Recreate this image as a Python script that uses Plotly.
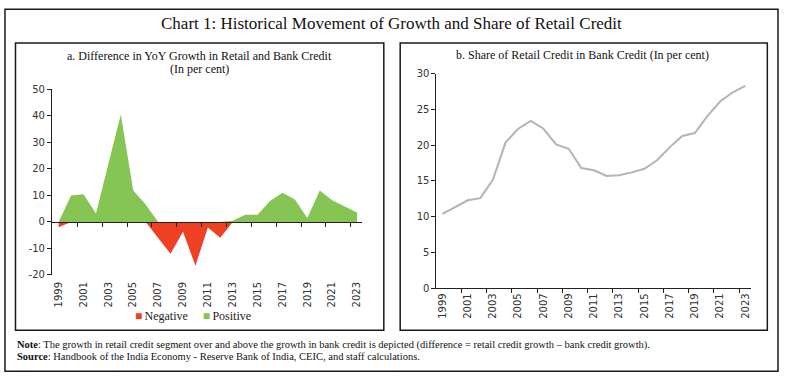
import plotly.graph_objects as go

years = list(range(1999, 2024))
diff_growth = [-2.0, 10.0, 10.5, 3.2, 22.0, 40.6, 11.9, 6.6, -6.0, -12.0, -3.7, -16.5,
               -2.1, -5.9, 0.5, 2.7, 2.7, 7.9, 11.0, 8.5, 1.5, 11.9, 8.2, 5.8, 3.6]
retail_share = [10.4, 11.3, 12.3, 12.6, 15.2, 20.4, 22.3, 23.4, 22.3, 20.1, 19.5, 16.8,
                16.5, 15.7, 15.8, 16.2, 16.7, 17.9, 19.7, 21.3, 21.7, 24.1, 26.1, 27.4, 28.3]
tick_years = list(range(1999, 2024, 2))
y_ticks_a = list(range(-20, 51, 10))
y_ticks_b = list(range(0, 31, 5))

positive = [max(v, 0) for v in diff_growth]
negative = [min(v, 0) for v in diff_growth]

W, H = 785, 382
def px(x):
    return x / W
def py(y):
    return 1 - y / H

RED = "#ee4123"
GREEN = "#86c454"
SERIF = "Liberation Serif"
SANS = "DejaVu Sans"

fig = go.Figure()
fig.add_trace(go.Scatter(x=years, y=negative, mode="lines", fill="tozeroy",
                         fillcolor=RED, line=dict(width=0, color=RED),
                         showlegend=False, xaxis="x", yaxis="y"))
fig.add_trace(go.Scatter(x=years, y=positive, mode="lines", fill="tozeroy",
                         fillcolor=GREEN, line=dict(width=0, color=GREEN),
                         showlegend=False, xaxis="x", yaxis="y"))
# legend entries: square swatch drawn as part of the entry text
fig.add_trace(go.Scatter(x=[None], y=[None], mode="markers",
                         name=f"<span style='color:{RED}'>\u25A0</span>\u2009Negative",
                         marker=dict(size=0.1, color="rgba(0,0,0,0)"),
                         xaxis="x", yaxis="y", legend="legend"))
fig.add_trace(go.Scatter(x=[None], y=[None], mode="markers",
                         name=f"<span style='color:{GREEN}'>\u25A0</span>\u2009Positive",
                         marker=dict(size=0.1, color="rgba(0,0,0,0)"),
                         xaxis="x", yaxis="y", legend="legend2"))
fig.add_trace(go.Scatter(x=years, y=retail_share, mode="lines",
                         line=dict(width=2, color="#b4b4b4"),
                         showlegend=False, xaxis="x2", yaxis="y2"))
# invisible helper traces for overlay tick axes
fig.add_trace(go.Scatter(x=[years[0]], y=[0], mode="markers", marker=dict(opacity=0),
                         showlegend=False, hoverinfo="skip", xaxis="x3", yaxis="y"))
fig.add_trace(go.Scatter(x=[years[0]], y=[0], mode="markers", marker=dict(opacity=0),
                         showlegend=False, hoverinfo="skip", xaxis="x4", yaxis="y2"))

between_ticks = [y + 1.5 for y in range(1999, 2023, 2)]
tickfont = dict(family=SANS, size=10, color="#333333")

xa_range = [1998.46, 2023.36]
xb_range = [1998.52, 2023.45]

def lbl(v):
    return str(v).replace("\u2212", "-")

legend_common = dict(orientation="h", y=py(319), xanchor="left", yanchor="middle",
                     font=dict(family=SERIF, size=12, color="#222222"),
                     bgcolor="rgba(0,0,0,0)")

fig.update_layout(
    width=W, height=H,
    margin=dict(l=0, r=0, t=0, b=0),
    paper_bgcolor="white", plot_bgcolor="white",
    showlegend=True,
    legend=dict(x=px(95), **legend_common),
    legend2=dict(x=px(163), **legend_common),
    xaxis=dict(domain=[px(52), px(362)], range=xa_range, anchor="y",
               tickmode="array", tickvals=tick_years, ticktext=[str(y) for y in tick_years],
               tickangle=-90, tickfont=tickfont, showline=False, ticks="",
               showgrid=False, zeroline=False, ticklabelstandoff=4),
    yaxis=dict(domain=[py(278), py(87)], range=[-20, 50], anchor="x",
               tickmode="array", tickvals=y_ticks_a, ticktext=[lbl(v) for v in y_ticks_a],
               tickfont=tickfont,
               showline=True, linecolor="#222222", linewidth=1, ticks="outside",
               ticklen=4, tickcolor="#222222", showgrid=False, zeroline=False),
    xaxis3=dict(domain=[px(52), px(362)], range=xa_range, anchor="free",
                position=py(223), overlaying="x",
                tickmode="array", tickvals=between_ticks, showticklabels=False,
                showline=True, linecolor="#222222", linewidth=1, ticks="outside",
                ticklen=4, tickcolor="#222222", showgrid=False, zeroline=False),
    xaxis2=dict(domain=[px(437), px(752)], range=xb_range, anchor="y2",
                tickmode="array", tickvals=tick_years, ticktext=[str(y) for y in tick_years],
                tickangle=-90, tickfont=tickfont, showline=True, linecolor="#222222",
                linewidth=1, ticks="", showgrid=False, zeroline=False),
    xaxis4=dict(domain=[px(437), px(752)], range=xb_range, anchor="y2", overlaying="x2",
                tickmode="array", tickvals=[1998.5] + between_ticks, showticklabels=False,
                showline=False, ticks="outside", ticklen=4, tickcolor="#222222",
                showgrid=False, zeroline=False),
    yaxis2=dict(domain=[py(291.7), py(70.7)], range=[0, 30], anchor="x2",
                tickmode="array", tickvals=y_ticks_b, tickfont=tickfont,
                showline=True, linecolor="#222222", linewidth=1, ticks="outside",
                ticklen=4, tickcolor="#222222", showgrid=False, zeroline=False),
)

line = dict(color="#1a1a1a", width=1.5)
shapes = [
    dict(type="rect", xref="paper", yref="paper", x0=px(5), x1=px(779), y0=py(377), y1=py(4.5), line=line),
    dict(type="rect", xref="paper", yref="paper", x0=px(15.5), x1=px(384.3), y0=py(335), y1=py(39), line=line),
    dict(type="rect", xref="paper", yref="paper", x0=px(400.7), x1=px(768.3), y0=py(335), y1=py(39), line=line),
]
fig.update_layout(shapes=shapes)

annotations = [
    dict(text="Chart 1: Historical Movement of Growth and Share of Retail Credit",
         x=px(392), y=py(19), font=dict(family=SERIF, size=17, color="#111111")),
    dict(text="a. Difference in YoY Growth in Retail and Bank Credit",
         x=px(200), y=py(52), font=dict(family=SERIF, size=12, color="#111111")),
    dict(text="(In per cent)",
         x=px(200), y=py(66), font=dict(family=SERIF, size=12, color="#111111")),
    dict(text="b. Share of Retail Credit in Bank Credit (In per cent)",
         x=px(583), y=py(51), font=dict(family=SERIF, size=12, color="#111111")),
    dict(text="<b>Note</b>: The growth in retail credit segment over and above the growth in bank credit is depicted (difference = retail credit growth \u2013 bank credit growth).",
         x=px(15), y=py(350), xanchor="left", font=dict(family=SERIF, size=10.5, color="#111111")),
    dict(text="<b>Source</b>: Handbook of the India Economy - Reserve Bank of India, CEIC, and staff calculations.",
         x=px(15), y=py(362), xanchor="left", font=dict(family=SERIF, size=10.5, color="#111111")),
]
for a in annotations:
    a.setdefault("xanchor", "center")
    a["yanchor"] = "middle"
    a["xref"] = "paper"
    a["yref"] = "paper"
    a["showarrow"] = False
fig.update_layout(annotations=annotations)

fig.write_html("out.html", config={"displayModeBar": False},
               post_script="document.body.style.margin='0';document.body.style.padding='0';")
